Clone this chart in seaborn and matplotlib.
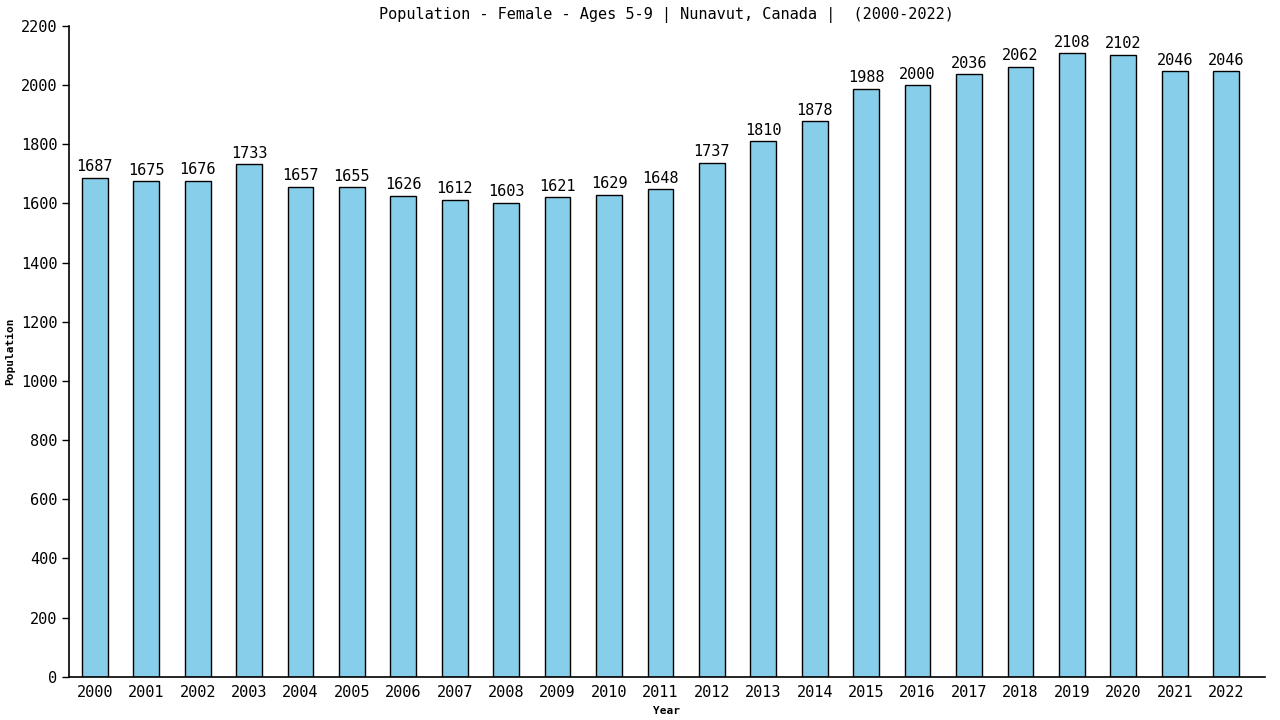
import matplotlib
matplotlib.use("Agg")
import matplotlib.pyplot as plt
import seaborn as sns
import pandas as pd

# Data
years = [str(y) for y in range(2000, 2023)]
population = [1687, 1675, 1676, 1733, 1657, 1655, 1626, 1612, 1603, 1621, 1629, 1648,
              1737, 1810, 1878, 1988, 2000, 2036, 2062, 2108, 2102, 2046, 2046]

df = pd.DataFrame({"Year": years, "Population": population})

sns.set_style("white")
plt.rcParams['font.family'] = ['DejaVu Sans Mono', 'DejaVu Sans']
plt.rcParams['text.color'] = 'black'
plt.rcParams['axes.labelcolor'] = 'black'
plt.rcParams['xtick.color'] = 'black'
plt.rcParams['ytick.color'] = 'black'

fig = plt.figure(figsize=(12.8, 7.2), dpi=100)
ax = fig.add_axes([0.054, 0.06, 0.934, 0.904])

sns.barplot(data=df, x="Year", y="Population", color="#87CEEB", saturation=1,
            width=0.5, edgecolor="black", linewidth=1, ax=ax)

for i, v in enumerate(population):
    ax.text(i, v + 12, str(v), ha="center", va="bottom", fontsize=11, color="black")

ax.set_xlim(-0.5, 22.75)
ax.set_ylim(0, 2200)
ax.set_yticks(range(0, 2201, 200))
ax.tick_params(axis="y", direction="out", length=5, width=1, left=True, labelsize=11)
ax.tick_params(axis="x", length=0, labelsize=11, pad=6)
ax.set_xlabel("Year", fontsize=8, fontweight="bold")
ax.set_ylabel("Population", fontsize=8, fontweight="bold")
ax.set_title("Population - Female - Ages 5-9 | Nunavut, Canada |  (2000-2022)",
             fontsize=11, pad=5, color="black")

for side in ["top", "right"]:
    ax.spines[side].set_visible(False)
for side in ["left", "bottom"]:
    ax.spines[side].set_color("black")
    ax.spines[side].set_linewidth(1.2)

fig.savefig("out.png", dpi=100)
